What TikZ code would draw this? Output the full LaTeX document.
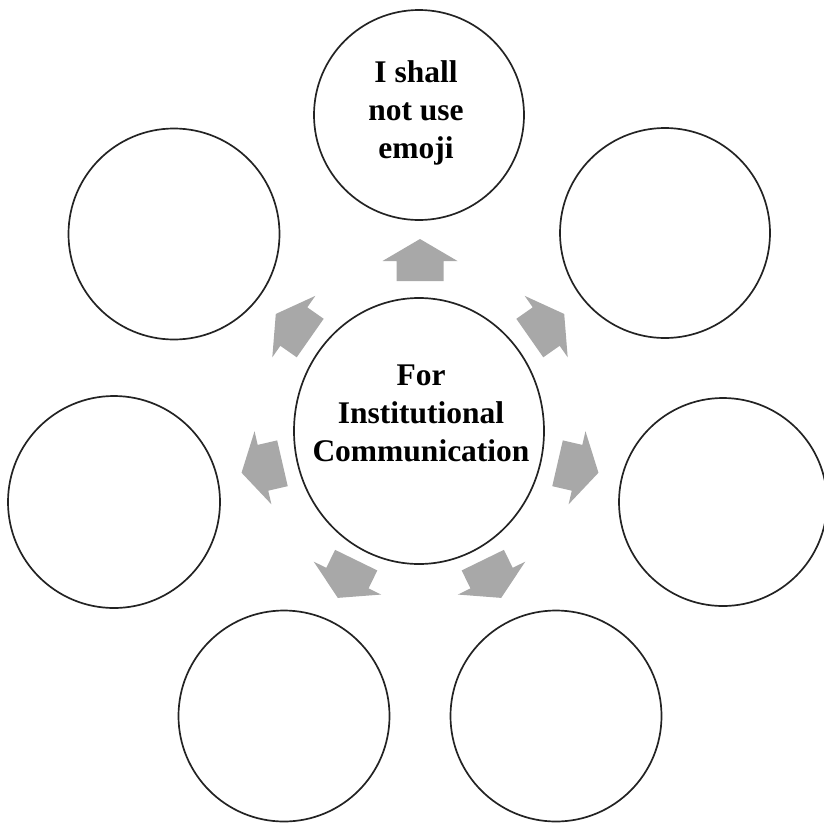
\documentclass[tikz,border=0pt]{standalone}
\usepackage{fontspec}
\usetikzlibrary{shapes.geometric}
\setmainfont{Liberation Serif}
\definecolor{arrowgray}{RGB}{168,168,168}
\definecolor{ringline}{RGB}{35,35,35}
\begin{document}
\begin{tikzpicture}[x=1pt,y=-1pt,
  ring/.style={draw=ringline, line width=1.7pt, circle, inner sep=0pt},
  blockarrow/.style={fill=arrowgray, draw=none},
  label/.style={align=center, font=\fontsize{31.5}{38}\selectfont\bfseries, inner sep=0pt}]
\useasboundingbox (0,0) rectangle (824,822);
% outer circles
\node[ring, minimum size=210pt] (top) at (419,115) {};
\node[ring, minimum size=211pt] (ul) at (174,234) {};
\node[ring, minimum size=210pt] (ur) at (665,233) {};
\node[ring, minimum size=212pt] (l) at (114,502) {};
\node[ring, minimum size=208pt] (r) at (723,502) {};
\node[ring, minimum size=211pt] (bl) at (284,716) {};
\node[ring, minimum size=211pt] (br) at (556,716) {};
% centre
\node[draw=ringline, line width=1.7pt, ellipse, minimum width=250pt, minimum height=266pt, inner sep=0pt] (hub) at (419,431) {};
\node[label] (hubtext) at (421,413) {For\\Institutional\\Communication};
\node[label] (toptext) at (416,113) {I shall\\not use\\emoji};
% block arrows
\foreach \x/\y/\a in {420/260/90, 293/326/145, 547/326/35, 262/468/193, 578/468/-13, 347/579/244, 492/579/296}{
  \begin{scope}[shift={(\x,\y)}, rotate=\a]
    \fill[blockarrow] (-21,-23.5) -- (-1,-23.5) -- (-1,-37.5) -- (21,0) -- (-1,37.5) -- (-1,23.5) -- (-21,23.5) -- cycle;
  \end{scope}
}
\end{tikzpicture}
\end{document}
